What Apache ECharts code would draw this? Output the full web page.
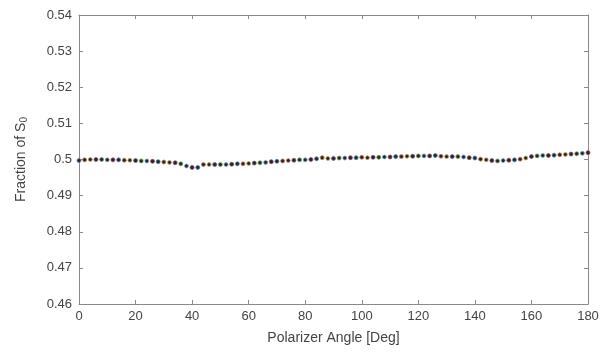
<!DOCTYPE html>
<html>
<head>
<meta charset="utf-8">
<script src="https://cdn.jsdelivr.net/npm/echarts@6/dist/echarts.min.js"></script>
<style>
  html, body { margin: 0; padding: 0; background: #fff; }
  #chart { width: 603px; height: 358px; }
</style>
</head>
<body>
<div id="chart"></div>
<script>
// Polarizer angle samples (degrees)
const angles = [
  0, 2, 4, 6, 8, 10, 12, 14, 16, 18, 20, 22, 24, 26, 28, 30, 32, 34, 36, 38,
  40, 42, 44, 46, 48, 50, 52, 54, 56, 58, 60, 62, 64, 66, 68, 70, 72, 74, 76, 78,
  80, 82, 84, 86, 88, 90, 92, 94, 96, 98, 100, 102, 104, 106, 108, 110, 112, 114, 116, 118,
  120, 122, 124, 126, 128, 130, 132, 134, 136, 138, 140, 142, 144, 146, 148, 150, 152, 154, 156, 158,
  160, 162, 164, 166, 168, 170, 172, 174, 176, 178, 180
];

// Fraction of S0 at each angle
const fraction = [
  0.4997, 0.4999, 0.5000, 0.5000, 0.5000, 0.4999, 0.4999, 0.4999, 0.4998, 0.4998,
  0.4997, 0.4996, 0.4996, 0.4995, 0.4994, 0.4993, 0.4992, 0.4991, 0.4988, 0.4982,
  0.4978, 0.4978, 0.4986, 0.4986, 0.4986, 0.4986, 0.4986, 0.4987, 0.4988, 0.4988,
  0.4989, 0.4990, 0.4991, 0.4992, 0.4994, 0.4995, 0.4996, 0.4997, 0.4998, 0.4999,
  0.4999, 0.5000, 0.5002, 0.5005, 0.5003, 0.5003, 0.5004, 0.5004, 0.5005, 0.5005,
  0.5006, 0.5005, 0.5006, 0.5006, 0.5007, 0.5007, 0.5008, 0.5008, 0.5009, 0.5009,
  0.5010, 0.5010, 0.5010, 0.5011, 0.5009, 0.5008, 0.5008, 0.5008, 0.5007, 0.5005,
  0.5004, 0.5001, 0.4999, 0.4997, 0.4996, 0.4997, 0.4998, 0.4999, 0.5001, 0.5004,
  0.5008, 0.5010, 0.5011, 0.5011, 0.5012, 0.5013, 0.5014, 0.5015, 0.5016, 0.5017,
  0.5019
];

// Axis ticks
const xTicks = [0, 20, 40, 60, 80, 100, 120, 140, 160, 180];
const yTicks = [0.46, 0.47, 0.48, 0.49, 0.5, 0.51, 0.52, 0.53, 0.54];

// Marker edge colours, cycled point by point
const palette = ['#4f86b5', '#c9805c', '#cfae63', '#7d5a86', '#7e9f5a', '#72b3cf', '#9a4a58'];

const axisGray = '#8a8a8a';
const textGray = '#444444';
const font = 'Liberation Sans, Arial, sans-serif';

const points = angles.map((a, i) => ({
  value: [a, fraction[i]],
  itemStyle: { borderColor: palette[i % palette.length] }
}));

const fmtY = v => String(parseFloat(v.toFixed(2)));

const baseX = {
  type: 'value',
  min: xTicks[0],
  max: xTicks[xTicks.length - 1],
  interval: 20,
  axisLine: { show: true, onZero: false, lineStyle: { color: axisGray, width: 1 } },
  axisTick: { show: true, inside: true, length: 4, lineStyle: { color: axisGray } },
  splitLine: { show: false }
};
const baseY = {
  type: 'value',
  min: yTicks[0],
  max: yTicks[yTicks.length - 1],
  interval: 0.01,
  axisLine: { show: true, onZero: false, lineStyle: { color: axisGray, width: 1 } },
  axisTick: { show: true, inside: true, length: 4, lineStyle: { color: axisGray } },
  splitLine: { show: false }
};

const chart = echarts.init(document.getElementById('chart'), null, { renderer: 'canvas' });
chart.setOption({
  animation: false,
  backgroundColor: '#ffffff',
  grid: { left: 79, right: 15, top: 15, bottom: 54 },
  xAxis: [
    Object.assign({}, baseX, {
      position: 'bottom',
      name: 'Polarizer Angle [Deg]',
      nameLocation: 'middle',
      nameGap: 27,
      nameTextStyle: { color: textGray, fontSize: 14, fontFamily: font },
      axisLabel: { color: textGray, fontSize: 13, fontFamily: font, margin: 6 }
    }),
    Object.assign({}, baseX, { position: 'top', axisLabel: { show: false } })
  ],
  yAxis: [
    Object.assign({}, baseY, {
      position: 'left',
      name: '{t|Fraction of S}{s|0}',
      nameLocation: 'middle',
      nameGap: 50,
      nameTextStyle: {
        rich: {
          t: { color: textGray, fontSize: 14, fontFamily: font },
          s: { color: textGray, fontSize: 10, fontFamily: font, verticalAlign: 'bottom', padding: [6, 0, 0, 0] }
        }
      },
      axisLabel: { color: textGray, fontSize: 13, fontFamily: font, margin: 7, formatter: fmtY }
    }),
    Object.assign({}, baseY, { position: 'right', axisLabel: { show: false } })
  ],
  series: [{
    type: 'scatter',
    xAxisIndex: 0,
    yAxisIndex: 0,
    symbol: 'circle',
    symbolSize: 4,
    itemStyle: { color: '#262626', borderWidth: 0.8, opacity: 1 },
    data: points
  }]
});
</script>
</body>
</html>
